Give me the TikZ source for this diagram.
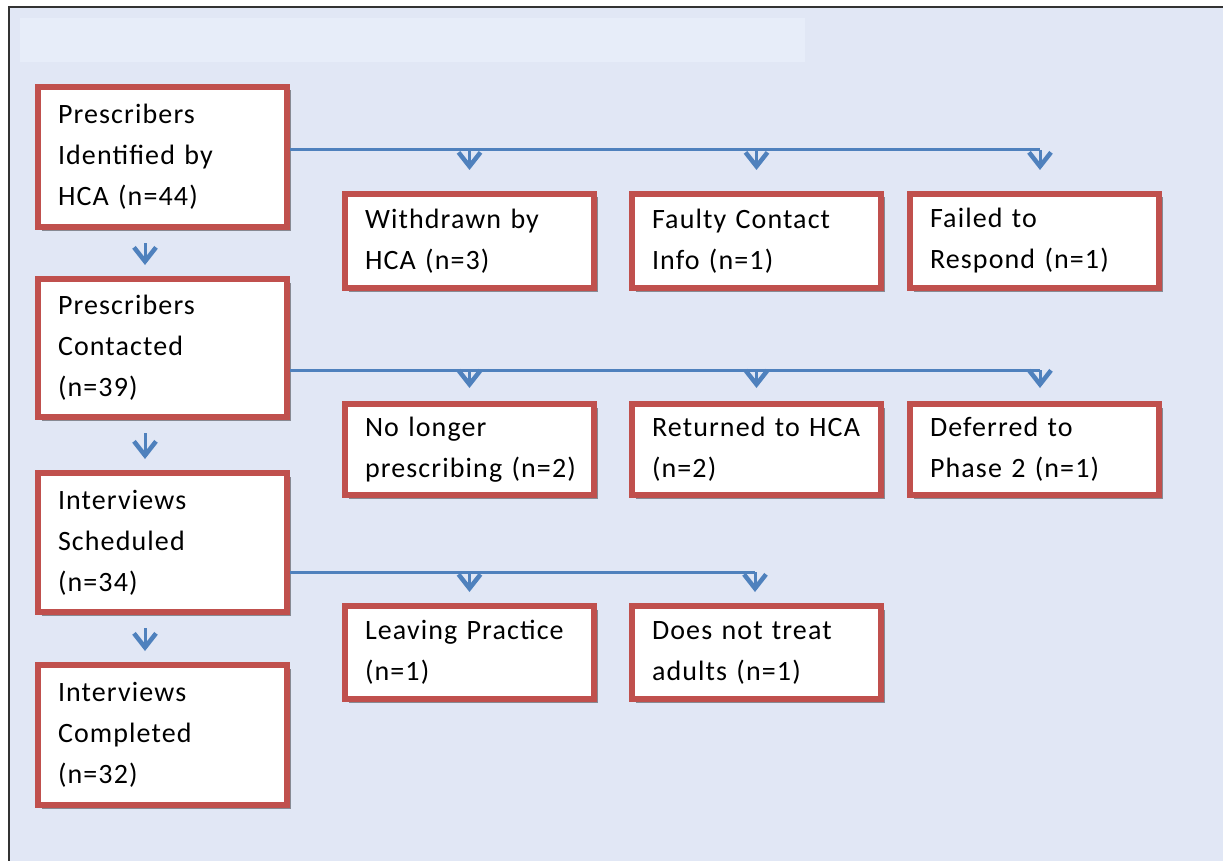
\documentclass[tikz,border=0pt]{standalone}
\usepackage{fontspec}
\setmainfont{Carlito}[LetterSpace=4,WordSpace=0.6]
\usetikzlibrary{arrows.meta,shadows}
\definecolor{bgblue}{RGB}{225,231,245}
\definecolor{bandblue}{RGB}{231,237,249}
\definecolor{boxred}{RGB}{192,80,77}
\definecolor{lineblue}{RGB}{79,129,189}
\tikzset{
  flowbox/.style={draw=boxred, line width=6pt, fill=white, rectangle,
    minimum width=249pt, text width=209pt, inner xsep=20pt, align=left,
    font=\fontsize{28}{41}\selectfont,
    drop shadow={shadow xshift=3.5pt, shadow yshift=-3.5pt, fill=black, opacity=0.4}},
  conn/.style={draw=lineblue, line width=3pt},
  drop/.style={draw=lineblue, line width=3pt, -{Straight Barb[length=14pt,width=22pt,line width=4.5pt]}}
}
\begin{document}
\begin{tikzpicture}[x=1pt,y=-1pt]
\useasboundingbox (0,0) rectangle (1223,861);
% background frame
\fill[white] (0,0) rectangle (1223,861);
\fill[bgblue] (9,7) rectangle (1223,861);
\fill[bandblue] (20,18) rectangle (805,62);
\draw[line width=2pt, black!80] (9,861) -- (9,7) -- (1223,7);

% left column
\node[flowbox, minimum height=140pt] (b1) at (162.5,157) {Prescribers\\Identified~by\\HCA~(n=44)};
\node[flowbox, minimum height=138pt] (b2) at (162.5,348) {Prescribers\\Contacted\\(n=39)};
\node[flowbox, minimum height=139pt] (b3) at (162.5,542.5) {Interviews\\Scheduled\\(n=34)};
\node[flowbox, minimum height=140pt] (b4) at (162.5,735) {Interviews\\Completed\\(n=32)};

% row 1
\node[flowbox, minimum height=94pt] (r1a) at (469.5,241) {Withdrawn~by\\HCA~(n=3)};
\node[flowbox, minimum height=94pt] (r1b) at (756.5,241) {Faulty~Contact\\Info~(n=1)};
\node[flowbox, minimum height=94pt] (r1c) at (1034.5,241) {Failed~to\\Respond~(n=1)};
% row 2
\node[flowbox, minimum height=91pt] (r2a) at (469.5,449.5) {No~longer\\prescribing~(n=2)};
\node[flowbox, minimum height=91pt] (r2b) at (756.5,449.5) {Returned~to~HCA\\(n=2)};
\node[flowbox, minimum height=91pt] (r2c) at (1034.5,449.5) {Deferred~to\\Phase~2~(n=1)};
% row 3
\node[flowbox, minimum height=93pt] (r3a) at (469.5,652.5) {Leaving~Practice\\(n=1)};
\node[flowbox, minimum height=93pt] (r3b) at (756.5,652.5) {Does~not~treat\\adults~(n=1)};

% branch coordinates
\coordinate (h1) at (1040,150);
\coordinate (h2) at (1040,370);
\coordinate (h3) at (755,572);

% horizontal branch lines
\draw[conn] (b1.east |- h1) -- (h1);
\draw[conn] (b2.east |- h2) -- (h2);
\draw[conn] (b3.east |- h3) -- (h3);

% drops row 1
\draw[drop, shorten >=21pt] (r1a.north |- h1) -- (r1a.north);
\draw[drop, shorten >=21pt] (r1b.north |- h1) -- (r1b.north);
\draw[drop, shorten >=21pt] (h1) -- (h1 |- r1c.north);
% drops row 2
\draw[drop, shorten >=13pt] (r2a.north |- h2) -- (r2a.north);
\draw[drop, shorten >=13pt] (r2b.north |- h2) -- (r2b.north);
\draw[drop, shorten >=13pt] (h2) -- (h2 |- r2c.north);
% drops row 3
\draw[drop, shorten >=11pt] (r3a.north |- h3) -- (r3a.north);
\draw[drop, shorten >=11pt] (h3) -- (h3 |- r3b.north);

% left column arrows
\draw[drop, shorten <=13pt, shorten >=11pt] ([xshift=-17.5pt]b1.south) -- ([xshift=-17.5pt]b2.north);
\draw[drop, shorten <=13pt, shorten >=11pt] ([xshift=-17.5pt]b2.south) -- ([xshift=-17.5pt]b3.north);
\draw[drop, shorten <=13pt, shorten >=11pt] ([xshift=-17.5pt]b3.south) -- ([xshift=-17.5pt]b4.north);
\end{tikzpicture}
\end{document}
